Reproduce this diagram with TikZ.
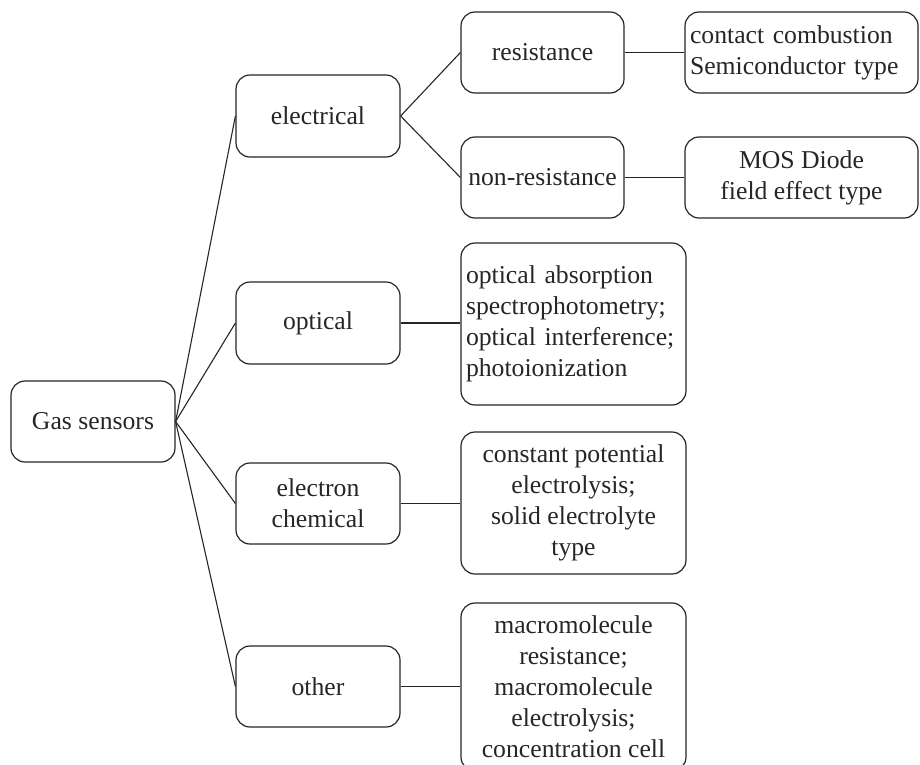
\documentclass[tikz,border=0pt]{standalone}
\usepackage{fontspec}
\setmainfont{Liberation Serif}
\begin{document}
\begin{tikzpicture}[x=1pt,y=-1pt,
  box/.style={draw=black!85, line width=1.2pt, rounded corners=14pt, inner sep=0pt,
    align=center, font=\fontsize{25.7}{31}\selectfont, text=black!85},
  leftbox/.style={box, align=left, inner xsep=5pt},
  link/.style={draw=black!85, line width=1.1pt}]
\useasboundingbox (0,0) rectangle (920,764);
\clip (0,0) rectangle (920,764);
\fill[white] (0,0) rectangle (920,764);
% level 0
\node[box, minimum width=164pt, minimum height=81pt] (gas) at (93,421.5) {Gas sensors};
% level 1
\node[box, minimum width=164pt, minimum height=82pt] (elec) at (318,116) {electrical};
\node[box, minimum width=164pt, minimum height=82pt] (opt) at (318,323) {optical};
\node[box, minimum width=164pt, minimum height=81pt] (ec) at (318,503.5) {electron\\chemical};
\node[box, minimum width=164pt, minimum height=81pt] (oth) at (318,686.5) {other};
% level 2 electrical
\node[box, minimum width=163pt, minimum height=81pt] (res) at (542.5,52.5) {resistance};
\node[box, minimum width=163pt, minimum height=81pt] (nonres) at (542.5,177.5) {non-resistance};
% leaves
\node[leftbox, text width=223pt, minimum height=81pt] (cc) at (801.5,52.5) {contact combustion\\Semiconductor type};
\node[box, minimum width=233pt, minimum height=81pt] (mos) at (801.5,177.5) {MOS Diode\\field effect type};
\node[leftbox, text width=215pt, minimum height=162pt] (optt) at (573.5,324) {optical absorption\\spectrophotometry;\\optical interference;\\photoionization};
\node[box, minimum width=225pt, minimum height=142pt] (cpe) at (573.5,503) {constant potential\\electrolysis;\\ solid electrolyte\\type};
\node[box, minimum width=225pt, minimum height=168pt] (mac) at (573.5,687) {macromolecule\\resistance;\\macromolecule\\electrolysis;\\concentration cell};
% connectors
\draw[link] (gas.east) -- (elec.west);
\draw[link] (gas.east) -- (opt.west);
\draw[link] (gas.east) -- (ec.west);
\draw[link] (gas.east) -- (oth.west);
\draw[link] (elec.east) -- (res.west);
\draw[link] (elec.east) -- (nonres.west);
\draw[link] (res.east) -- (res.east -| cc.west);
\draw[link] (nonres.east) -- (nonres.east -| mos.west);
\draw[link] (opt.east) -- (opt.east -| optt.west);
\draw[link] (ec.east) -- (ec.east -| cpe.west);
\draw[link] (oth.east) -- (oth.east -| mac.west);
\end{tikzpicture}
\end{document}
